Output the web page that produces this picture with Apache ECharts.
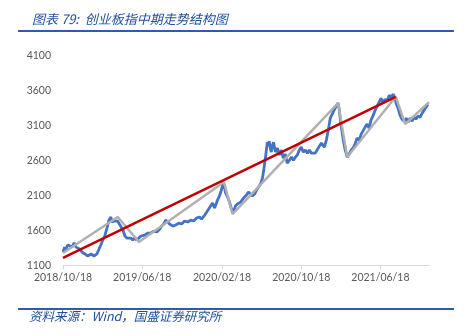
<!DOCTYPE html>
<html>
<head>
<meta charset="utf-8">
<style>
  html, body { margin: 0; padding: 0; background: #fff; }
  #chart { width: 470px; height: 336px; }
</style>
<script src="https://cdn.jsdelivr.net/npm/echarts@6/dist/echarts.min.js"></script>
</head>
<body>
<div id="chart"></div>
<script>
// ChiNext index (创业板指), sampled closes
const indexDates = [
  '2018-10-18','2018-10-23','2018-10-26','2018-11-02','2018-11-08','2018-11-15','2018-11-21','2018-11-27',
  '2018-12-03','2018-12-09','2018-12-15','2018-12-24','2019-01-02','2019-01-12','2019-01-21','2019-01-30',
  '2019-02-05','2019-02-11','2019-02-17','2019-02-23','2019-03-02','2019-03-05','2019-03-08','2019-03-11',
  '2019-03-14','2019-03-17','2019-03-20','2019-03-26','2019-04-01','2019-04-04','2019-04-07','2019-04-13',
  '2019-04-20','2019-04-26','2019-05-02','2019-05-08','2019-05-14','2019-05-20','2019-05-26','2019-06-01',
  '2019-06-08','2019-06-14','2019-06-20','2019-06-26','2019-07-05','2019-07-14','2019-07-23','2019-08-02',
  '2019-08-11','2019-08-17','2019-08-23','2019-08-29','2019-09-04','2019-09-10','2019-09-20','2019-09-29',
  '2019-10-08','2019-10-17','2019-10-26','2019-11-05','2019-11-14','2019-11-23','2019-12-02','2019-12-11',
  '2019-12-17','2019-12-27','2020-01-02','2020-01-08','2020-01-14','2020-01-20','2020-01-26','2020-02-01',
  '2020-02-04','2020-02-10','2020-02-16','2020-02-19','2020-02-23','2020-02-26','2020-02-28','2020-03-06',
  '2020-03-12','2020-03-18','2020-03-24','2020-03-30','2020-04-05','2020-04-15','2020-04-24','2020-05-03',
  '2020-05-09','2020-05-15','2020-05-21','2020-05-28','2020-06-03','2020-06-09','2020-06-15','2020-06-21',
  '2020-06-24','2020-06-27','2020-06-30','2020-07-03','2020-07-06','2020-07-09','2020-07-12','2020-07-15',
  '2020-07-18','2020-07-22','2020-07-25','2020-07-31','2020-08-06','2020-08-12','2020-08-18','2020-08-24',
  '2020-08-30','2020-09-05','2020-09-12','2020-09-18','2020-09-24','2020-09-30','2020-10-06','2020-10-12',
  '2020-10-18','2020-10-24','2020-10-31','2020-11-06','2020-11-12','2020-11-18','2020-11-24','2020-11-30',
  '2020-12-09','2020-12-19','2020-12-28','2021-01-03','2021-01-09','2021-01-15','2021-01-21','2021-01-27',
  '2021-02-02','2021-02-08','2021-02-11','2021-02-17','2021-02-24','2021-03-02','2021-03-08','2021-03-14',
  '2021-03-20','2021-03-26','2021-04-01','2021-04-07','2021-04-14','2021-04-20','2021-04-26','2021-05-02',
  '2021-05-08','2021-05-14','2021-05-20','2021-05-27','2021-06-02','2021-06-08','2021-06-14','2021-06-20',
  '2021-06-26','2021-07-02','2021-07-08','2021-07-15','2021-07-21','2021-07-27','2021-08-02','2021-08-05',
  '2021-08-11','2021-08-17','2021-08-23','2021-08-30','2021-09-05','2021-09-11','2021-09-17','2021-09-23',
  '2021-09-29','2021-10-05','2021-10-11','2021-10-18','2021-10-24','2021-10-30','2021-11-05','2021-11-11'
];
const indexValues = [
  1290,1360,1330,1390,1405,1360,1420,1360,
  1375,1330,1290,1262,1233,1262,1233,1262,
  1290,1390,1461,1519,1633,1690,1747,1719,
  1790,1719,1704,1733,1761,1733,1704,1676,
  1604,1519,1490,1504,1490,1461,1490,1461,
  1490,1519,1547,1533,1561,1561,1590,1576,
  1619,1661,1690,1747,1719,1690,1661,1676,
  1704,1690,1733,1719,1747,1733,1776,1790,
  1761,1819,1861,1904,1947,1990,1919,1990,
  2033,2090,2176,2233,2276,2219,2147,2076,
  2004,1904,1861,1947,1976,2004,2061,2104,
  2147,2133,2090,2119,2176,2204,2261,2347,
  2433,2533,2633,2747,2861,2804,2876,2776,
  2719,2819,2861,2719,2776,2676,2747,2633,
  2690,2561,2604,2647,2604,2647,2676,2747,
  2790,2719,2747,2704,2747,2704,2676,2704,
  2776,2847,2790,2890,3033,3204,3176,3319,
  3376,3419,3347,3104,2890,2747,2647,2690,
  2747,2776,2833,2919,2890,2976,3004,3076,
  3119,3061,3176,3247,3319,3376,3404,3490,
  3419,3476,3447,3533,3504,3547,3490,3419,
  3347,3247,3190,3161,3204,3147,3204,3161,
  3219,3190,3233,3219,3276,3319,3361,3404
];

// Swing structure: alternating highs and lows
const swingDates  = ['2018-10-18','2019-04-04','2019-06-08','2020-02-24','2020-03-21','2021-02-08','2021-03-08','2021-08-04','2021-09-02','2021-11-14'];
const swingValues = [1276, 1790, 1433, 2290, 1833, 3419, 2648, 3510, 3119, 3433];

// Medium-term trend line from the 2018 low to the 2021 high
const trendDates  = ['2018-10-18', '2021-08-04'];
const trendValues = [1205, 3510];

// Axis ticks
const xTickLabels = ['2018/10/18', '2019/06/18', '2020/02/18', '2020/10/18', '2021/06/18'];
const xStart = '2018-10-18';
const xEnd = '2021-11-14';
const yMin = 1100, yMax = 4100, yStep = 500;

// Dates are placed on a linear day scale (local midnight timestamps)
const stamp = s => {
  const p = s.split(/[-\/]/).map(Number);
  return new Date(p[0], p[1] - 1, p[2]).getTime();
};
const pair = (ds, vs) => ds.map((d, i) => [stamp(d), vs[i]]);
const tickStamps = xTickLabels.map(stamp);

const chart = echarts.init(document.getElementById('chart'));
const labelFont = 'Lato, "Liberation Sans", sans-serif';
const blue = '#1f4e9c';

chart.setOption({
  animation: false,
  title: {
    text: '图表 79:  创业板指中期走势结构图',
    left: 27, top: 8,
    textStyle: {
      color: blue, fontSize: 13, fontStyle: 'italic', fontWeight: 'normal',
      fontFamily: '"Noto Sans CJK SC", sans-serif'
    }
  },
  graphic: [
    { type: 'line', shape: { x1: 18, y1: 31, x2: 454, y2: 31 }, style: { stroke: '#2f5ca8', lineWidth: 2 } },
    { type: 'line', shape: { x1: 18, y1: 309, x2: 454, y2: 309 }, style: { stroke: '#2f5ca8', lineWidth: 2 } },
    {
      type: 'text', left: 29, top: 310,
      style: {
        text: '资料来源：Wind，国盛证券研究所', fill: blue,
        font: 'italic 12.5px "Noto Sans CJK SC", sans-serif'
      }
    }
  ],
  grid: { left: 63, right: 41, top: 55.5, bottom: 70.7 },
  xAxis: {
    type: 'value',
    min: stamp(xStart), max: stamp(xEnd),
    axisLine: { lineStyle: { color: '#d9d9d9', width: 1 } },
    axisTick: { show: true, length: 4, customValues: tickStamps, lineStyle: { color: '#d9d9d9' } },
    axisLabel: {
      customValues: tickStamps,
      formatter: v => xTickLabels[tickStamps.indexOf(v)] || '',
      color: '#595959', fontSize: 10.5, fontFamily: labelFont, margin: 7
    },
    splitLine: { show: false }
  },
  yAxis: {
    type: 'value',
    min: yMin, max: yMax, interval: yStep,
    axisLine: { show: false },
    axisTick: { show: false },
    splitLine: { show: false },
    axisLabel: {
      formatter: v => String(v),
      color: '#595959', fontSize: 10.5, fontFamily: labelFont, margin: 12
    }
  },
  series: [
    {
      type: 'line', data: pair(indexDates, indexValues), showSymbol: false,
      lineStyle: { color: '#4472c4', width: 2.8 }, z: 2
    },
    {
      type: 'line', data: pair(swingDates, swingValues), showSymbol: false,
      lineStyle: { color: '#b0b0b0', width: 2.5 }, z: 3
    },
    {
      type: 'line', data: pair(trendDates, trendValues), showSymbol: false,
      lineStyle: { color: '#c00000', width: 2.5 }, z: 4
    }
  ]
});
</script>
</body>
</html>
